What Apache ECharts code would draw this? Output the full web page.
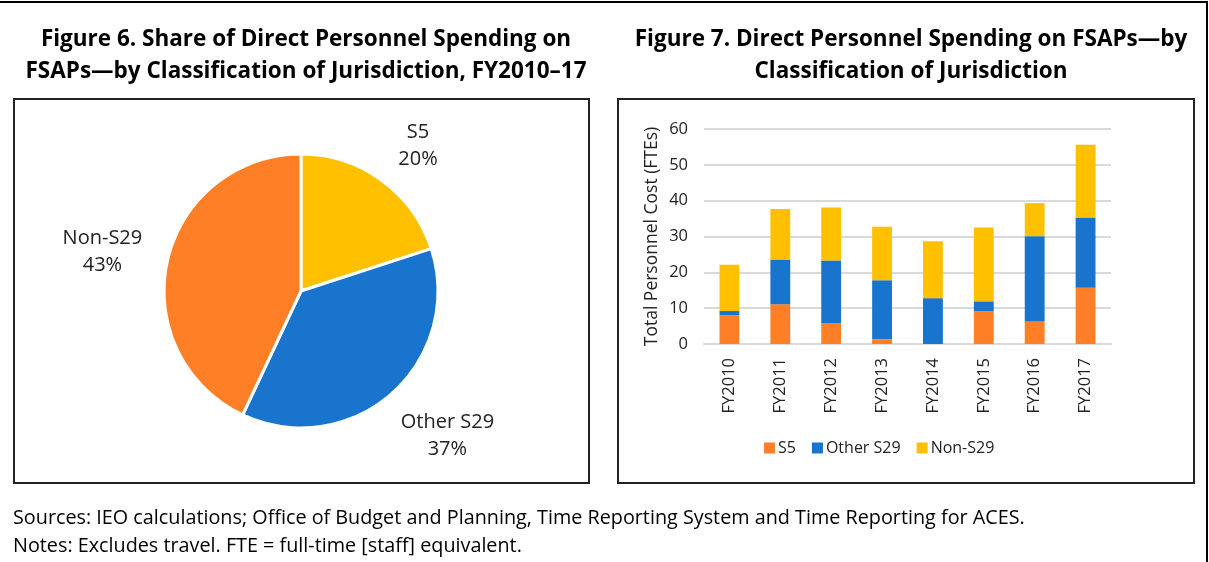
<!DOCTYPE html>
<html>
<head>
<meta charset="utf-8">
<script src="https://cdn.jsdelivr.net/npm/echarts@6/dist/echarts.min.js"></script>
<style>
  html, body { margin: 0; padding: 0; background: #fff; }
  #chart { width: 1209px; height: 562px; }
</style>
</head>
<body>
<div id="chart"></div>
<script>
// pie (Figure 6)
const pieNames = ['S5', 'Other S29', 'Non-S29'];
const pieShares = [20, 37, 43];

// stacked bars (Figure 7)
const years = ['FY2010', 'FY2011', 'FY2012', 'FY2013', 'FY2014', 'FY2015', 'FY2016', 'FY2017'];
const s5 = [8.0, 11.1, 5.7, 1.3, 0, 9.1, 6.3, 15.7];
const otherS29 = [1.2, 12.5, 17.6, 16.5, 12.8, 2.8, 23.8, 19.6];
const nonS29 = [12.9, 14.1, 14.8, 14.9, 15.9, 20.6, 9.2, 20.3];

const colors = ['#ff7f27', '#1874cd', '#ffc000'];
const pieColors = { 'S5': '#ffc000', 'Other S29': '#1874cd', 'Non-S29': '#ff7f27' };
const font = '"Open Sans", "Noto Sans", sans-serif';

const pieCenter = [301, 291];
const pieR = 137;

// mid angle of each slice (clockwise from 12 o'clock)
const total = pieShares.reduce((a, b) => a + b, 0);
let acc = 0;
const midAngles = pieShares.map(v => {
  const a = (acc + v / 2) / total * Math.PI * 2;
  acc += v;
  return a;
});

const chart = echarts.init(document.getElementById('chart'));

const option = {
  animation: false,
  textStyle: { fontFamily: font },
  title: [
    {
      text: 'Figure 6. Share of Direct Personnel Spending on\nFSAPs\u2014by Classification of Jurisdiction, FY2010\u201317',
      left: 301, top: 19, textAlign: 'center',
      textStyle: { fontSize: 22.5, fontWeight: 'bold', color: '#000', lineHeight: 32, fontFamily: font }
    },
    {
      text: 'Figure 7. Direct Personnel Spending on FSAPs\u2014by\nClassification of Jurisdiction',
      left: 906, top: 19, textAlign: 'center',
      textStyle: { fontSize: 22.5, fontWeight: 'bold', color: '#000', lineHeight: 32, fontFamily: font }
    },
    {
      text: 'Sources: IEO calculations; Office of Budget and Planning, Time Reporting System and Time Reporting for ACES.\nNotes: Excludes travel. FTE = full-time [staff] equivalent.',
      left: 8, top: 499,
      textStyle: { fontSize: 19.8, fontWeight: 'normal', color: '#000', lineHeight: 28, fontFamily: font }
    }
  ],
  graphic: [
    { type: 'line', shape: { x1: 0, y1: 2, x2: 1208, y2: 2 }, style: { stroke: '#000', lineWidth: 2 } },
    { type: 'line', shape: { x1: 1207, y1: 2, x2: 1207, y2: 562 }, style: { stroke: '#000', lineWidth: 2 } },
    { type: 'rect', shape: { x: 14, y: 99, width: 575, height: 384 }, style: { fill: 'none', stroke: '#222', lineWidth: 2 } },
    { type: 'rect', shape: { x: 618, y: 99, width: 576, height: 384 }, style: { fill: 'none', stroke: '#222', lineWidth: 2 } }
  ],
  legend: {
    data: ['S5', 'Other S29', 'Non-S29'],
    left: 759, top: 435,
    icon: 'rect', itemWidth: 11, itemHeight: 11, itemGap: 16,
    textStyle: { fontSize: 16, color: '#222', fontFamily: font, padding: [0, 0, 0, -2] }
  },
  grid: { left: 704, top: 129, width: 407, height: 215 },
  xAxis: {
    type: 'category',
    data: years,
    axisLine: { lineStyle: { color: '#d9d9d9', width: 2 } },
    axisTick: { show: false },
    axisLabel: { rotate: 90, fontSize: 16.5, color: '#222', margin: 14 }
  },
  yAxis: {
    type: 'value',
    min: 0, max: 60, interval: 10,
    name: 'Total Personnel Cost (FTEs)',
    nameLocation: 'middle', nameGap: 43, nameRotate: 90,
    nameTextStyle: { fontSize: 17.5, color: '#222' },
    axisLine: { show: false },
    axisTick: { show: false },
    axisLabel: { fontSize: 16.5, color: '#222', margin: 16 },
    splitLine: { lineStyle: { color: '#d9d9d9', width: 2 } }
  },
  series: [
    {
      type: 'pie',
      center: pieCenter, radius: pieR,
      startAngle: 90, clockwise: true,
      data: pieNames.map((n, i) => ({ name: n, value: pieShares[i], itemStyle: { color: pieColors[n] } })),
      itemStyle: { borderColor: '#fff', borderWidth: 3 },
      label: {
        position: 'outside', formatter: '{b}\n{d}%',
        fontSize: 20, color: '#222', lineHeight: 27, fontFamily: font
      },
      labelLine: { show: false },
      // centre each label just outside its slice, pushed sideways by its width
      labelLayout: function (p) {
        const a = midAngles[p.dataIndex];
        const dx = Math.sin(a), dy = -Math.cos(a);
        const d = pieR + 42;
        const w = p.labelRect.width, h = p.labelRect.height;
        return {
          x: pieCenter[0] + dx * d + Math.sign(dx) * w * 0.3,
          y: pieCenter[1] + dy * d + (dy > 0 ? dy * h * 0.25 : 0),
          align: 'center', verticalAlign: 'middle'
        };
      },
      legendHoverLink: false,
      emphasis: { disabled: true }
    },
    { name: 'S5', type: 'bar', stack: 'a', data: s5, barWidth: '39%', itemStyle: { color: colors[0] } },
    { name: 'Other S29', type: 'bar', stack: 'a', data: otherS29, barWidth: '39%', itemStyle: { color: colors[1] } },
    { name: 'Non-S29', type: 'bar', stack: 'a', data: nonS29, barWidth: '39%', itemStyle: { color: colors[2] } }
  ]
};

chart.setOption(option);
</script>
</body>
</html>
